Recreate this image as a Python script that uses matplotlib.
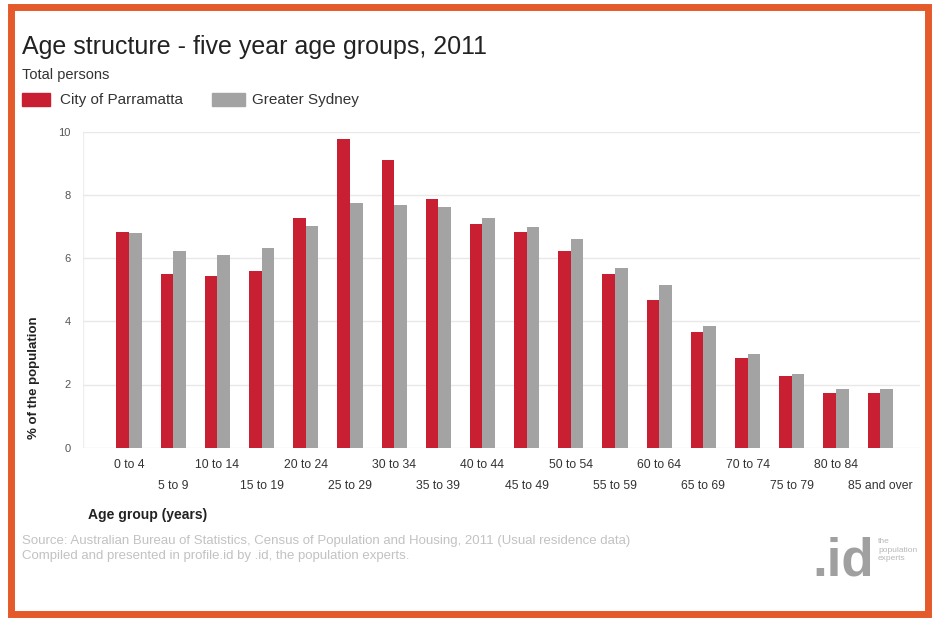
import numpy as np
import matplotlib.pyplot as plt
from matplotlib.patches import Rectangle

plt.rcParams['font.family'] = ['Liberation Sans', 'DejaVu Sans']

# five year age groups, share of total persons (%)
age_groups = ['0 to 4', '5 to 9', '10 to 14', '15 to 19', '20 to 24', '25 to 29',
              '30 to 34', '35 to 39', '40 to 44', '45 to 49', '50 to 54', '55 to 59',
              '60 to 64', '65 to 69', '70 to 74', '75 to 79', '80 to 84', '85 and over']
parramatta = [6.84, 5.50, 5.44, 5.60, 7.28, 9.76, 9.09, 7.87, 7.07, 6.84,
              6.22, 5.50, 4.66, 3.67, 2.84, 2.28, 1.74, 1.74]
sydney = [6.78, 6.23, 6.11, 6.31, 7.02, 7.75, 7.67, 7.62, 7.28, 6.99,
          6.59, 5.70, 5.14, 3.84, 2.96, 2.32, 1.86, 1.85]
y_ticks = [0, 2, 4, 6, 8, 10]

RED = '#c91f33'
GREY = '#a3a3a3'
ORANGE = '#e55a2b'

W, H = 932, 619
fig = plt.figure(figsize=(W / 100, H / 100), dpi=100)
fig.patch.set_facecolor('white')

# orange frame
fig.patches.append(Rectangle((10.5 / W, 1 - 613.5 / H), 917 / W, 607 / H,
                             transform=fig.transFigure, fill=False,
                             edgecolor=ORANGE, linewidth=5))

ax = fig.add_axes([83 / W, 1 - 447.7 / H, 837 / W, 316 / H])
x = np.arange(len(age_groups))
bw = 0.285
ax.bar(x - bw / 2, parramatta, bw, color=RED, zorder=3)
ax.bar(x + bw / 2, sydney, bw, color=GREY, zorder=3)

ax.set_ylim(0, 10)
ax.set_xlim(-1.04, 17.9)
ax.set_yticks(y_ticks)
ax.set_yticklabels([str(t) for t in y_ticks], fontsize=8, color='#555555')
ax.tick_params(axis='y', length=0, pad=9)
ax.grid(axis='y', color='#e8e8e8', linewidth=1, zorder=0)
for s in ax.spines.values():
    s.set_visible(False)
ax.axvline(-1.04, color='#eeeeee', linewidth=1, zorder=1)

# staggered two-row category labels
ax.set_xticks(x)
ax.set_xticklabels([])
ax.tick_params(axis='x', length=0)
for i, lab in enumerate(age_groups):
    off = -17 if i % 2 == 0 else -38
    ax.annotate(lab, (i, 0), xycoords=('data', 'axes fraction'),
                xytext=(0, off), textcoords='offset pixels',
                ha='center', va='center', fontsize=8.8, color='#333333')

fig.text(22 / W, 1 - 47 / H, 'Age structure - five year age groups, 2011',
         fontsize=18, color='#222222', va='center', ha='left')
fig.text(22 / W, 1 - 75 / H, 'Total persons', fontsize=10.5, color='#333333',
         va='center', ha='left')

# legend
fig.patches.append(Rectangle((22 / W, 1 - 106 / H), 28 / W, 13 / H,
                             transform=fig.transFigure, color=RED))
fig.text(60 / W, 1 - 100 / H, 'City of Parramatta', fontsize=11, color='#333333',
         va='center', ha='left')
fig.patches.append(Rectangle((212 / W, 1 - 106 / H), 33 / W, 13 / H,
                             transform=fig.transFigure, color=GREY))
fig.text(252 / W, 1 - 100 / H, 'Greater Sydney', fontsize=11, color='#333333',
         va='center', ha='left')

fig.text(34 / W, 1 - 378 / H, '% of the population', rotation=90, fontsize=9.5,
         fontweight='bold', color='#222222', va='center', ha='center')
fig.text(88 / W, 1 - 515 / H, 'Age group (years)', fontsize=10, fontweight='bold',
         color='#222222', va='center', ha='left')

fig.text(22 / W, 1 - 541 / H,
         'Source: Australian Bureau of Statistics, Census of Population and Housing, 2011 (Usual residence data)',
         fontsize=9.5, color='#c2c2c2', va='center', ha='left')
fig.text(22 / W, 1 - 556 / H,
         'Compiled and presented in profile.id by .id, the population experts.',
         fontsize=9.5, color='#c2c2c2', va='center', ha='left')

# .id mark
fig.text(812 / W, 1 - 575 / H, '.id', fontsize=38, fontweight='bold',
         color='#a0a0a0', va='baseline', ha='left')
fig.text(878 / W, 1 - 550 / H, 'the\npopulation\nexperts', fontsize=6,
         color='#b8b8b8', va='center', ha='left', linespacing=1.3)

fig.savefig('out.png', dpi=100, facecolor='white')
